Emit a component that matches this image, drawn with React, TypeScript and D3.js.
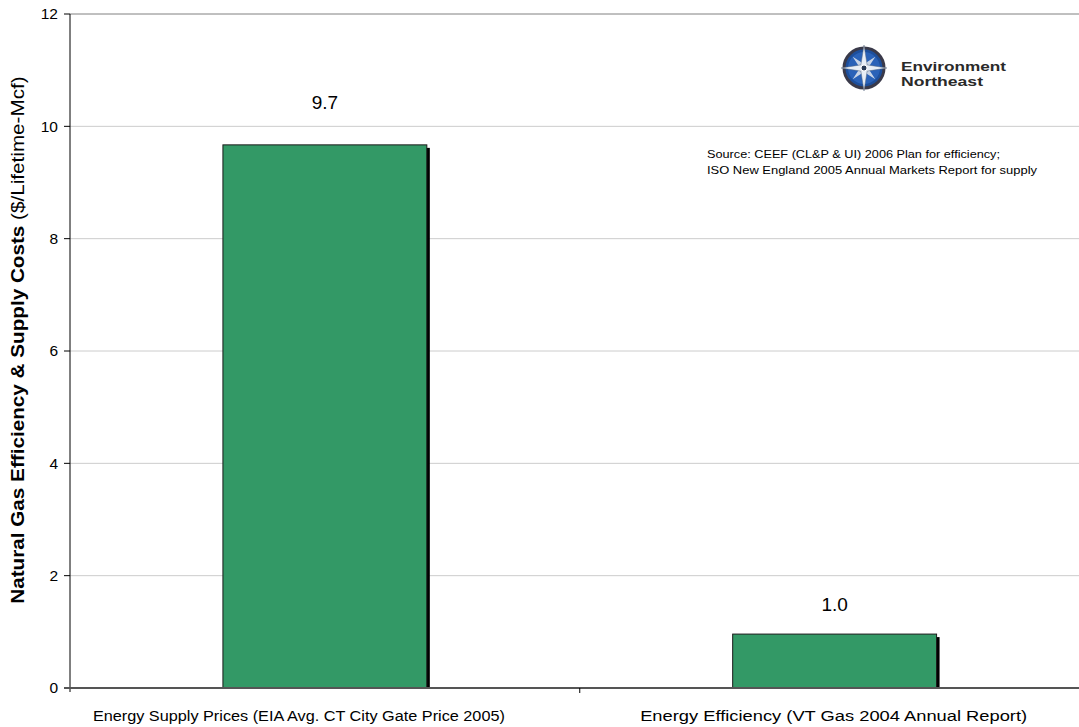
import React from "react";
import * as d3 from "d3";

const categories = [
  "Energy Supply Prices (EIA Avg. CT City Gate Price 2005)",
  "Energy Efficiency (VT Gas 2004 Annual Report)",
];
const values = [9.67, 0.96];
const valueLabels = ["9.7", "1.0"];
const yTicks = [0, 2, 4, 6, 8, 10, 12];
const sourceLines = [
  "Source: CEEF (CL&P & UI) 2006 Plan for efficiency;",
  "ISO New England 2005 Annual Markets Report for supply",
];

const W = 1079;
const H = 727;
const left = 70;
const right = 1089.5;
const top = 14;
const bottom = 688;
const font = "Arial, 'Liberation Sans', sans-serif";

function Compass({ cx, cy, r }: { cx: number; cy: number; r: number }) {
  const star = (len: number, wid: number, rot: number) => {
    const pts: [number, number][] = [];
    for (let i = 0; i < 8; i++) {
      const a = (i * Math.PI) / 4 + rot;
      const rr = i % 2 === 0 ? len : wid;
      pts.push([cx + rr * Math.sin(a), cy - rr * Math.cos(a)]);
    }
    return pts.map((p) => p.join(",")).join(" ");
  };
  return (
    <g>
      <circle cx={cx} cy={cy} r={r} fill="#1d4f9c" stroke="#3a3a4a" strokeWidth={3} />
      <circle cx={cx} cy={cy} r={r - 4} fill="#2a62b8" />
      <polygon points={star(r * 0.8, r * 0.2, Math.PI / 4)} fill="#c8d4e6" />
      <polygon points={star(r + 3, r * 0.22, 0)} fill="#e8eef6" stroke="#5a6a80" strokeWidth={0.5} />
      <circle cx={cx} cy={cy} r={3} fill="#2a3a55" stroke="#fff" strokeWidth={1} />
    </g>
  );
}

export default function App() {
  const y = d3.scaleLinear().domain([0, 12]).range([bottom, top]);
  const x = d3.scaleBand<string>().domain(categories).range([left, right]).paddingInner(0.6).paddingOuter(0.3);
  const bw = x.bandwidth();
  const labelOffsets = [43, 30];
  const catShift = [-26, -1];
  const catLen = [412, 387];

  return (
    <svg width={W} height={H} style={{ position: "absolute", left: 0, top: 0, background: "#fff" }} fontFamily={font}>
      {yTicks.map((t) => (
        <g key={t}>
          {t > 0 && (
            <line x1={left} x2={right} y1={y(t)} y2={y(t)} stroke={t === 12 ? "#808080" : "#cccccc"} strokeWidth={1} />
          )}
          <line x1={left - 6} x2={left} y1={y(t)} y2={y(t)} stroke="#000" strokeWidth={1} />
          <text x={left - 12} y={y(t)} dy="0.35em" textAnchor="end" fontSize={15.5} fill="#000">
            {t}
          </text>
        </g>
      ))}
      <line x1={left} x2={left} y1={top} y2={bottom + 4} stroke="#000" strokeWidth={1} />
      {categories.map((c, i) => {
        const bx = x(c)!;
        const by = y(values[i]);
        const h = bottom - by;
        const cx = bx + bw / 2 + catShift[i];
        return (
          <g key={c}>
            <rect x={bx + 3} y={by + 3} width={bw} height={h - 3} fill="#000" />
            <rect x={bx} y={by} width={bw} height={h} fill="#339966" stroke="#1a1a1a" strokeWidth={1} />
            <text x={bx + bw / 2} y={by - labelOffsets[i]} dy="0.35em" textAnchor="middle" fontSize={19} fill="#000">
              {valueLabels[i]}
            </text>
            <text
              x={cx - catLen[i] / 2}
              y={716}
              dy="0.35em"
              fontSize={15.5}
              fill="#000"
              textLength={catLen[i]}
              lengthAdjust="spacingAndGlyphs"
            >
              {c}
            </text>
          </g>
        );
      })}
      <line x1={left - 6} x2={right} y1={bottom} y2={bottom} stroke="#555" strokeWidth={2} />
      <line x1={(left + right) / 2} x2={(left + right) / 2} y1={bottom} y2={bottom + 5} stroke="#000" strokeWidth={1} />
      <text
        transform={`translate(18, 340) rotate(-90) scale(1.15, 1)`}
        textAnchor="middle"
        dy="0.35em"
        fontSize={18}
        fill="#000"
      >
        <tspan fontWeight="bold">Natural Gas Efficiency &amp; Supply Costs</tspan>
        <tspan> ($/Lifetime-Mcf)</tspan>
      </text>
      {sourceLines.map((s, i) => (
        <text
          key={i}
          x={707}
          y={154 + i * 16}
          dy="0.35em"
          fontSize={11}
          fill="#000"
          textLength={i === 0 ? 293 : 330}
          lengthAdjust="spacingAndGlyphs"
        >
          {s}
        </text>
      ))}
      <Compass cx={864} cy={68} r={20} />
      <text x={901} y={71} fontSize={13} fontWeight="900" fill="#2a2a2a" textLength={105} lengthAdjust="spacingAndGlyphs">
        Environment
      </text>
      <text x={901} y={86} fontSize={13} fontWeight="900" fill="#2a2a2a" textLength={82} lengthAdjust="spacingAndGlyphs">
        Northeast
      </text>
    </svg>
  );
}
